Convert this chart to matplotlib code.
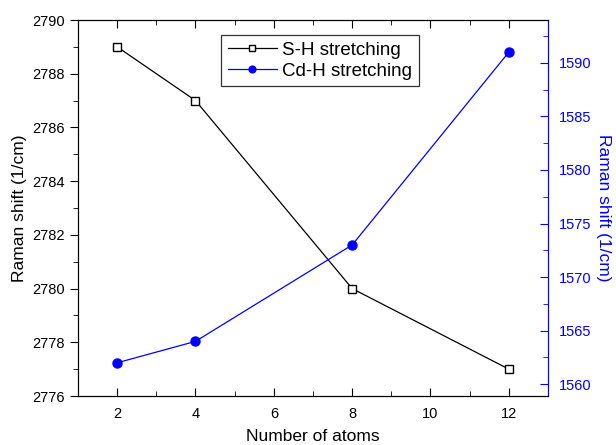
import matplotlib.pyplot as plt
from matplotlib.ticker import MultipleLocator

plt.rcParams['font.family'] = ['Liberation Sans', 'DejaVu Sans']

atoms = [2, 4, 8, 12]
sh_shift = [2789, 2787, 2780, 2777]
cdh_shift = [1562, 1564, 1573, 1591]

fig = plt.figure(figsize=(6.16, 4.45), dpi=100)
ax = fig.add_axes([78/616, 1 - 396/445, 470/616, 376/445])
ax2 = ax.twinx()

# S-H on the left axis
l1, = ax.plot(atoms, sh_shift, color='black', lw=0.9, marker='s', ms=5.5,
              mfc='white', mec='black', mew=1.0, label='S-H stretching')
ax.set_xlim(1, 13)
ax.set_ylim(2776, 2790)
ax.xaxis.set_major_locator(MultipleLocator(2))
ax.xaxis.set_minor_locator(MultipleLocator(1))
ax.yaxis.set_major_locator(MultipleLocator(2))
ax.yaxis.set_minor_locator(MultipleLocator(1))
ax.tick_params(axis='x', which='both', direction='in', top=True, labelsize=10.5, pad=8)
ax.tick_params(axis='x', which='major', length=6)
ax.tick_params(axis='x', which='minor', length=3.5)
ax.tick_params(axis='y', which='both', direction='out', labelsize=10.5)
ax.tick_params(axis='y', which='major', length=6)
ax.tick_params(axis='y', which='minor', length=3.5)
ax.set_xlabel('Number of atoms', fontsize=12.5, labelpad=6)
ax.set_ylabel('Raman shift (1/cm)', fontsize=12.5, labelpad=4)

# Cd-H on the right axis
l2, = ax2.plot(atoms, cdh_shift, color='blue', lw=0.9, marker='o', ms=6.5,
               label='Cd-H stretching')
ax2.set_ylim(1558.9, 1594)
ax2.yaxis.set_major_locator(MultipleLocator(5))
ax2.yaxis.set_minor_locator(MultipleLocator(2.5))
ax2.tick_params(axis='y', which='both', direction='in', colors='blue', labelsize=10.5, pad=8)
ax2.tick_params(axis='y', which='major', length=6)
ax2.tick_params(axis='y', which='minor', length=3.5)
ax2.spines['right'].set_color('blue')
ax2.set_ylabel('Raman shift (1/cm)', fontsize=12.5, color='blue', rotation=270, labelpad=14)

leg = ax.legend(handles=[l1, l2], loc='upper center', bbox_to_anchor=(0.515, 0.96),
                fontsize=13.5, frameon=True, fancybox=False, edgecolor='black',
                handlelength=2.6, borderpad=0.35, labelspacing=0.2, handletextpad=0.3,
                markerscale=0.75, borderaxespad=0)
leg.get_frame().set_linewidth(0.9)

plt.savefig('out.png', dpi=100)
